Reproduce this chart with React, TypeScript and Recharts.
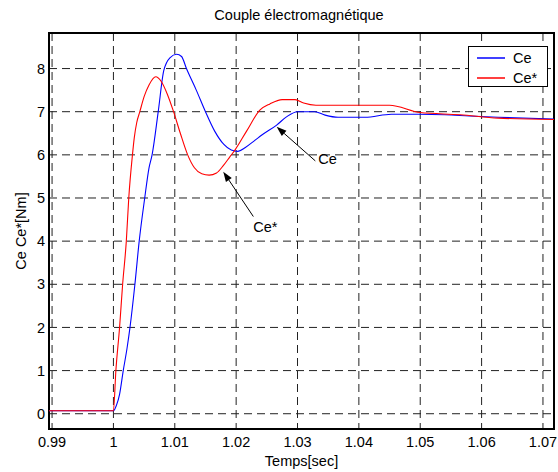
import React from "react";
import {
  CartesianGrid,
  Legend,
  Line,
  LineChart,
  ReferenceArea,
  ReferenceLine,
  XAxis,
  YAxis,
} from "recharts";

const FONT = "'Liberation Sans', Arial, Helvetica, sans-serif";
const FS = 14.5;

const X_MIN = 0.9895;
const X_MAX = 1.0718;
const Y_MIN = -0.354;
const Y_MAX = 8.824;

const X_TICKS = [0.99, 1, 1.01, 1.02, 1.03, 1.04, 1.05, 1.06, 1.07];
const Y_TICKS = [0, 1, 2, 3, 4, 5, 6, 7, 8];

// Ce (blue)
const T_CE = [
  0.9895, 1.0, 1.0005, 1.001, 1.0016, 1.0022, 1.0027, 1.0035, 1.0042, 1.0051,
  1.0058, 1.0063, 1.0073, 1.0082, 1.0092, 1.0103, 1.0111, 1.0119, 1.0135, 1.015,
  1.0165, 1.018, 1.0192, 1.0203, 1.0215, 1.023, 1.0243, 1.0266, 1.0282, 1.03,
  1.0328, 1.0345, 1.0366, 1.041, 1.0453, 1.0497, 1.054, 1.058, 1.0627, 1.0718,
];
const V_CE = [
  0.07, 0.07, 0.2, 0.45, 1.0, 1.5, 2.0, 3.0, 4.0, 5.0,
  5.7, 6.0, 7.0, 7.95, 8.25, 8.33, 8.28, 8.0, 7.5, 7.0,
  6.55, 6.24, 6.11, 6.08, 6.17, 6.33, 6.47, 6.69, 6.88, 7.0,
  7.0, 6.92, 6.87, 6.87, 6.94, 6.94, 6.93, 6.9, 6.87, 6.83,
];

// Ce* (red)
const T_CES = [
  0.9895, 1.0, 1.0004, 1.001, 1.0015, 1.0021, 1.0025, 1.0031, 1.0034, 1.0038,
  1.0043, 1.005, 1.0058, 1.0069, 1.0078, 1.0088, 1.0098, 1.0109, 1.0121, 1.0132,
  1.0144, 1.0156, 1.0168, 1.0179, 1.019, 1.0198, 1.0217, 1.0239, 1.0255, 1.0275,
  1.0296, 1.031, 1.033, 1.045, 1.05, 1.0565, 1.0627, 1.0718,
];
const V_CES = [
  0.07, 0.07, 1.0, 2.0, 3.0, 4.0, 5.0, 6.0, 6.4, 6.75,
  7.0, 7.35, 7.62, 7.81, 7.7, 7.4, 7.0, 6.5, 6.0, 5.7,
  5.56, 5.53, 5.58, 5.75, 5.96, 6.11, 6.55, 7.04, 7.18, 7.28,
  7.28, 7.2, 7.15, 7.15, 6.98, 6.93, 6.85, 6.82,
];

const ceData = T_CE.map((t, i) => ({ t, v: V_CE[i] }));
const cesData = T_CES.map((t, i) => ({ t, v: V_CES[i] }));

// arrow annotations: tail (text end) -> tip (on the curve)
const ANNOTATIONS = [
  { text: "Ce", tail: [1.0329, 5.86], tip: [1.0266, 6.65], dx: 3, dy: -1.5 },
  { text: "Ce*", tail: [1.0228, 4.57], tip: [1.0179, 5.61], dx: 0, dy: 10.5 },
];

const fmtX = (v: number) => String(Number(v.toFixed(2)));

function arrowShape(text: string, dx: number, dy: number) {
  return (p: any) => {
    const { x1, y1, x2, y2 } = p;
    const ang = Math.atan2(y2 - y1, x2 - x1);
    const len = 10;
    const w = 3.5;
    const bx = x2 - len * Math.cos(ang);
    const by = y2 - len * Math.sin(ang);
    const nx = -Math.sin(ang);
    const ny = Math.cos(ang);
    const pts = `${x2},${y2} ${bx + nx * w},${by + ny * w} ${bx - nx * w},${by - ny * w}`;
    return (
      <g>
        <line x1={x1} y1={y1} x2={bx} y2={by} stroke="#000" strokeWidth={1} />
        <polygon points={pts} fill="#000" />
        <text
          x={x1 + dx}
          y={y1 + dy}
          dominantBaseline="central"
          fontFamily={FONT}
          fontSize={FS}
          fill="#000"
        >
          {text}
        </text>
      </g>
    );
  };
}

function LegendBox({ payload }: any) {
  return (
    <div
      style={{
        width: 80,
        height: 41,
        border: "1px solid #000",
        background: "#fff",
        boxSizing: "border-box",
        fontFamily: FONT,
        fontSize: FS,
      }}
    >
      {(payload || []).map((e: any) => (
        <div key={e.value} style={{ display: "flex", alignItems: "center", height: 19, marginTop: 1 }}>
          <svg width={44} height={19}>
            <line x1={8} x2={36} y1={10} y2={10} stroke={e.color} strokeWidth={1.5} />
          </svg>
          <span>{e.value}</span>
        </div>
      ))}
    </div>
  );
}

export default function App() {
  return (
    <div style={{ position: "absolute", left: 0, top: 0, width: 558, height: 472, background: "#fff" }}>
      <div
        style={{
          position: "absolute",
          top: 7,
          left: 0,
          width: 598,
          textAlign: "center",
          fontFamily: FONT,
          fontSize: FS,
          lineHeight: "17px",
        }}
      >
        Couple électromagnétique
      </div>
      <LineChart width={558} height={472} margin={{ top: 33, right: 4, bottom: 0, left: 0 }}>
        <CartesianGrid stroke="#222" strokeDasharray="8 5" />
        <XAxis
          type="number"
          dataKey="t"
          domain={[X_MIN, X_MAX]}
          ticks={X_TICKS}
          tickFormatter={fmtX}
          allowDataOverflow
          axisLine={false}
          tickLine={false}
          tickSize={0}
          tickMargin={8}
          height={43}
          interval={0}
          tick={{ fill: "#000", fontFamily: FONT, fontSize: FS }}
          label={{
            content: ({ viewBox }: any) => (
              <text
                x={viewBox.x + viewBox.width / 2}
                y={461}
                textAnchor="middle"
                dominantBaseline="central"
                fontFamily={FONT}
                fontSize={FS}
                fill="#000"
              >
                Temps[sec]
              </text>
            ),
          }}
        />
        <YAxis
          type="number"
          domain={[Y_MIN, Y_MAX]}
          ticks={Y_TICKS}
          allowDataOverflow
          axisLine={false}
          tickLine={false}
          tickSize={0}
          tickMargin={4}
          width={49}
          interval={0}
          tick={{ fill: "#000", fontFamily: FONT, fontSize: FS }}
          label={{
            content: ({ viewBox }: any) => {
              const cy = viewBox.y + viewBox.height / 2;
              return (
                <text
                  x={21}
                  y={cy}
                  transform={`rotate(-90 21 ${cy})`}
                  textAnchor="middle"
                  dominantBaseline="central"
                  fontFamily={FONT}
                  fontSize={FS}
                  fill="#000"
                >
                  Ce Ce*[Nm]
                </text>
              );
            },
          }}
        />
        <Line
          data={ceData}
          dataKey="v"
          name="Ce"
          type="monotoneX"
          stroke="#0000ff"
          strokeWidth={1.1}
          dot={false}
          isAnimationActive={false}
        />
        <Line
          data={cesData}
          dataKey="v"
          name="Ce*"
          type="monotoneX"
          stroke="#ff0000"
          strokeWidth={1.1}
          dot={false}
          isAnimationActive={false}
        />
        {ANNOTATIONS.map((a) => (
          <ReferenceLine
            key={a.text}
            segment={[
              { x: a.tail[0], y: a.tail[1] },
              { x: a.tip[0], y: a.tip[1] },
            ]}
            stroke="#000"
            shape={arrowShape(a.text, a.dx, a.dy)}
          />
        ))}
        <ReferenceArea
          x1={X_MIN}
          x2={X_MAX}
          y1={Y_MIN}
          y2={Y_MAX}
          fill="none"
          fillOpacity={0}
          stroke="#000"
          strokeWidth={2}
          ifOverflow="visible"
        />
        <Legend
          layout="vertical"
          align="center"
          verticalAlign="middle"
          content={<LegendBox />}
          wrapperStyle={{ position: "absolute", left: 468, top: 46, width: 82, height: 43 }}
        />
      </LineChart>
    </div>
  );
}
